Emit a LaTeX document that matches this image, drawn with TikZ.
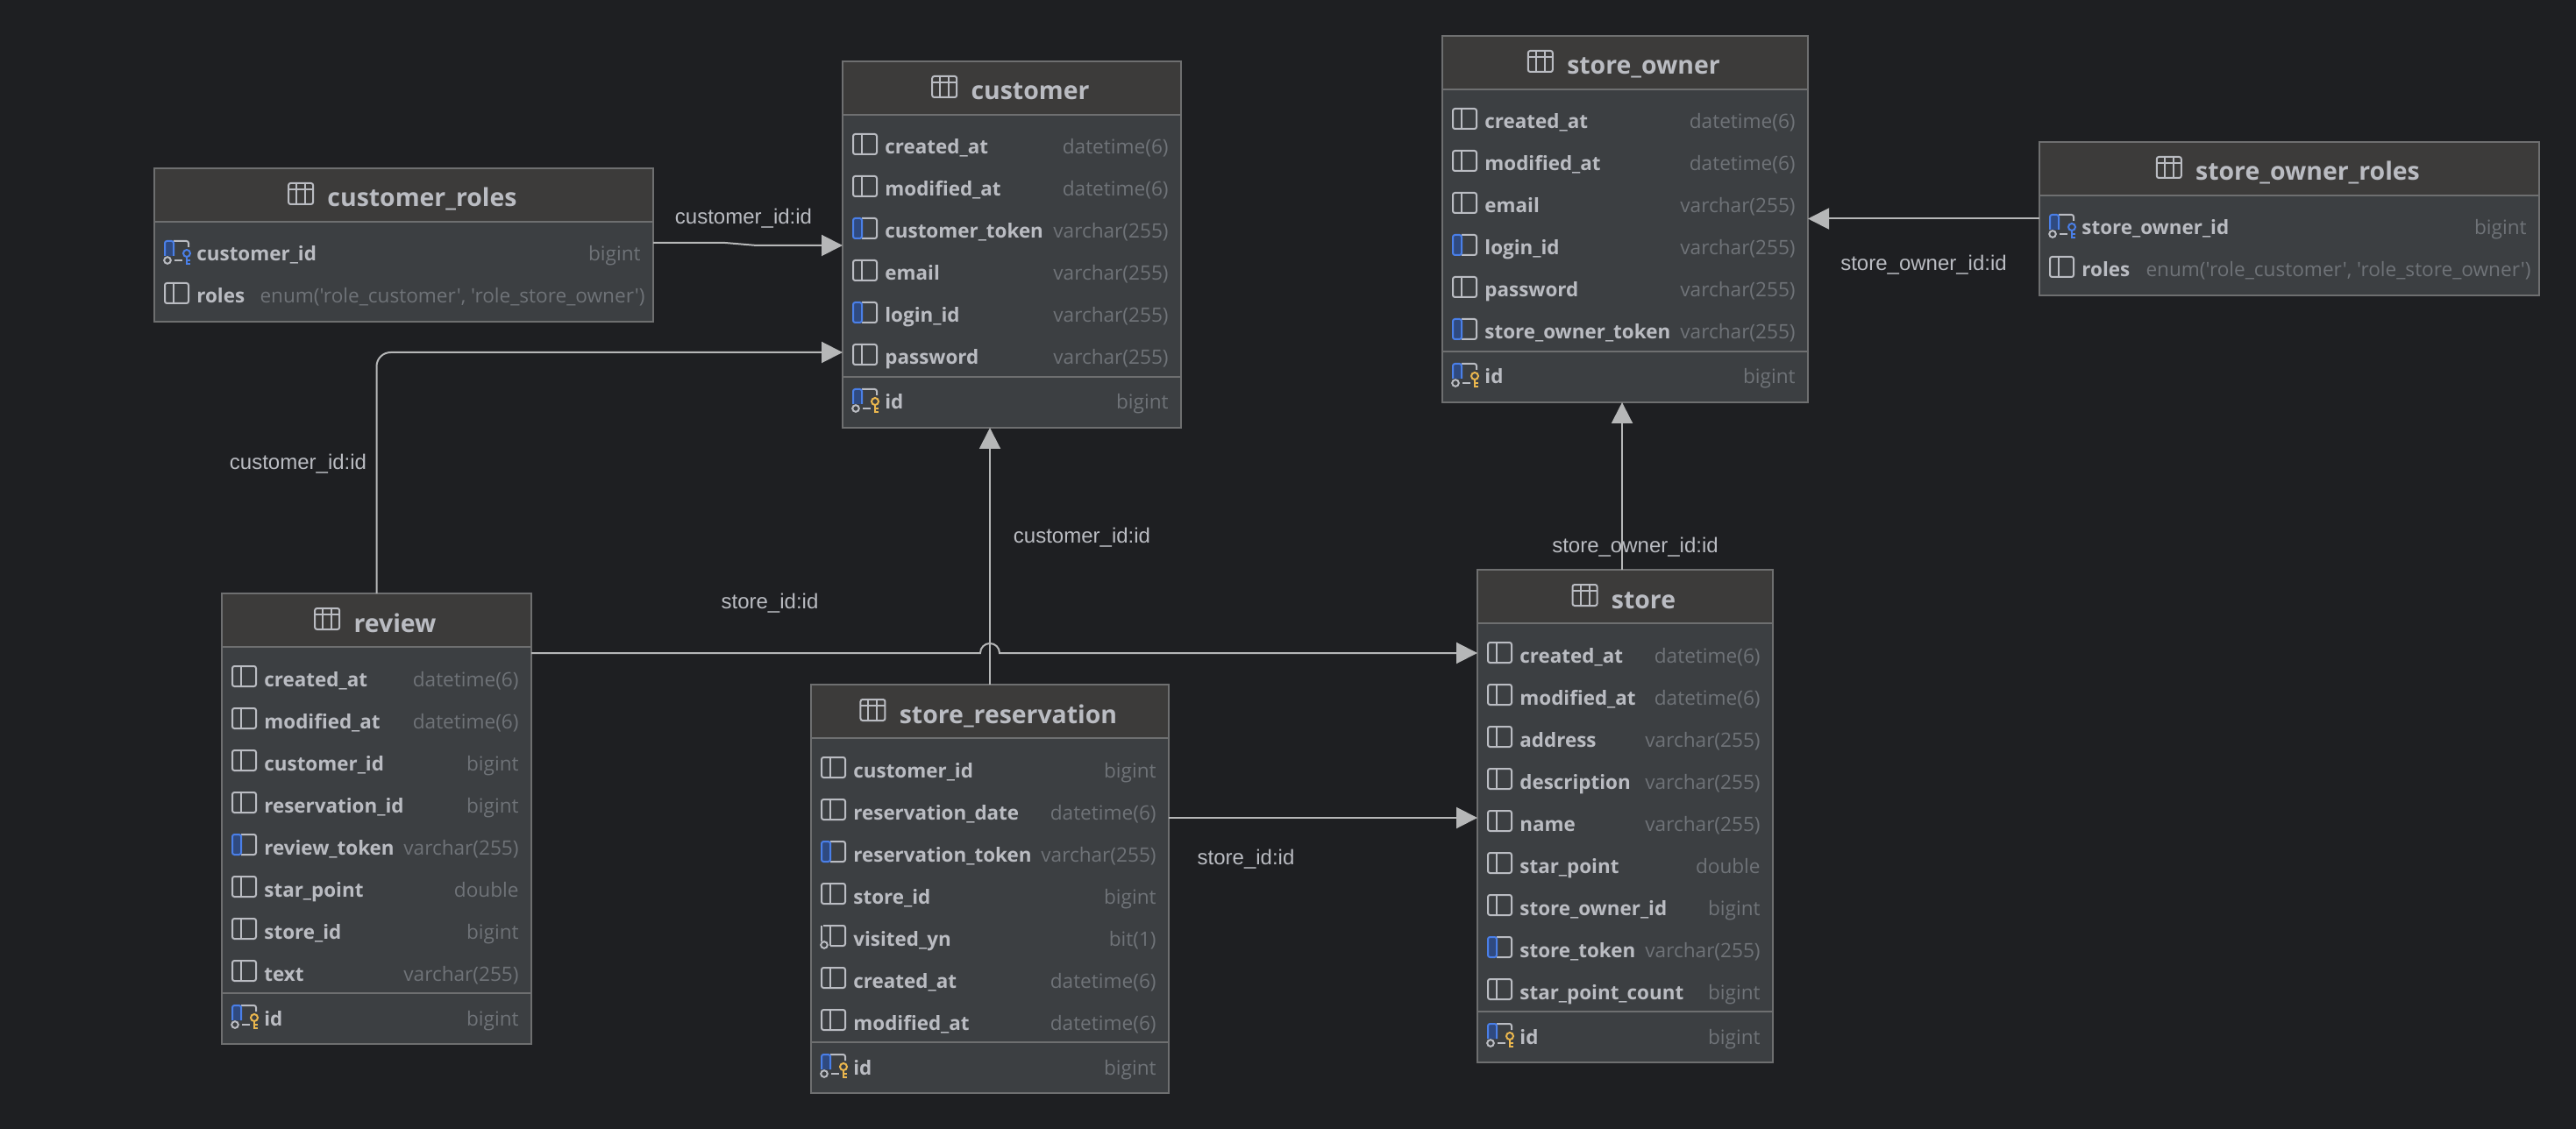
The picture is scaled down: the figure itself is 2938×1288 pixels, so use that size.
\documentclass[tikz,border=0pt]{standalone}
\usepackage{fontspec}
\usetikzlibrary{arrows.meta,calc,positioning,fit}
\newfontfamily\uifont{Open Sans}
\newfontfamily\lblfont{Liberation Sans}
\definecolor{bgdark}{HTML}{1E1F22}
\definecolor{headfill}{HTML}{3C3B3A}
\definecolor{bodyfill}{HTML}{3C3F42}
\definecolor{edgegray}{HTML}{6E6F70}
\definecolor{textgray}{HTML}{BABCC2}
\definecolor{typegray}{HTML}{6F7378}
\definecolor{linegray}{HTML}{B6B7B8}
\definecolor{iconblue}{HTML}{4A7FE8}
\definecolor{iconfill}{HTML}{2F4A80}
\definecolor{keyyellow}{HTML}{EBB74E}
\tikzset{
	tablebox/.style={fill=bodyfill,inner sep=0pt,outer sep=0pt},
	tabletitle/.style={font=\uifont\bfseries\fontsize{14.2}{16}\selectfont,text=textgray,inner sep=0pt,anchor=base},
	colname/.style={font=\uifont\bfseries\fontsize{11.2}{14}\selectfont,text=textgray,inner sep=0pt,anchor=base west},
	coltype/.style={font=\uifont\fontsize{11.3}{14}\selectfont,text=typegray,inner sep=0pt,anchor=base east},
	fklabel/.style={font=\lblfont\fontsize{12}{14}\selectfont,text=textgray,inner sep=0pt},
	fkline/.style={line width=1pt,draw=linegray,-{Triangle[length=12pt,width=12pt,fill=linegray]}},
	icline/.style={line width=1pt,draw=textgray,rounded corners=1.2pt},
	icblue/.style={line width=1pt,draw=iconblue,rounded corners=1.2pt},
}
\newcommand{\iconplain}{%
	\draw[icline] (0,-15) rectangle (27,8);
	\draw[icline] (10,-15) -- (10,8);
}
\newcommand{\iconuq}{%
	\draw[icline] (10,-15) -- (27,-15) -- (27,8) -- (10,8);
	\filldraw[icblue,fill=iconfill] (10,-15) -- (0,-15) -- (0,8) -- (10,8) -- cycle;
}
\newcommand{\iconnull}{%
	\draw[icline] (2,-15) -- (27,-15) -- (27,8) -- (10,8);
	\draw[icline] (10,-15) -- (10,8);
	\draw[icline] (0,-15) -- (0,3);
	\draw[line width=1pt,draw=textgray] (3,7) circle[radius=3.8];
}
\newcommand{\iconkey}[1]{%
	\draw[icline] (10,-15) -- (27,-15) -- (27,-8);
	\draw[icline] (11,7) -- (20,7);
	\filldraw[icblue,fill=iconfill] (0,2) -- (0,-15) -- (10,-15) -- (10,2);
	\draw[line width=1pt,draw=textgray] (3,7) circle[radius=3.8];
	\draw[line width=1pt,draw=#1] (25,-1) circle[radius=4];
	\draw[line width=1pt,draw=#1] (25,3) -- (25,11) -- (29,11) (25,7) -- (29,7);
}
\newcommand{\iconpk}{\iconkey{keyyellow}}
\newcommand{\iconfk}{\iconkey{iconblue}}
\newcommand{\dbtable}[6]{%
	\coordinate (#1-nw) at (#3,#5);
	\coordinate (#1-se) at (#4,#6);
	\node[tablebox,fit=(#1-nw)(#1-se)] (#1) {};
	\fill[headfill] (#1.north west) rectangle ($(#1.north east)+(0,61)$);
	\draw[line width=1pt,draw=edgegray] ($(#1.north west)+(0,61)$) -- ($(#1.north east)+(0,61)$);
	\draw[line width=1pt,draw=edgegray] (#1.north west) rectangle (#1.south east);
	\node[tabletitle] (#1-title) at ($(#1.north)+(21,44)$) {#2};
	\begin{scope}[shift={($(#1-title.base west)+(-44,-27)$)}]
		\draw[icline] (0,0) rectangle (28,24);
		\draw[icline] (0,7) -- (28,7) (9,0) -- (9,24) (19,0) -- (19,24);
	\end{scope}
}
\newcommand{\dbrow}[5]{%
	\coordinate (#1-#2) at ($(#1.north west)+(0,#2)$);
	\begin{scope}[shift={($(#1-#2)+(12,0)$)}]
		\csname icon#3\endcsname
	\end{scope}
	\node[colname] (#1-#2-col) at ($(#1-#2)+(48,8)$) {#4};
	\node[coltype] (#1-#2-type) at ($(#1-#2 -| #1.east)+(-14,8)$) {#5};
}
\newcommand{\dbrows}[2]{%
	\foreach \ic/\col/\typ [count=\rowi from 0] in {#2} {
		\pgfmathtruncatemacro{\rowy}{98+48*\rowi}
		\dbrow{#1}{\rowy}{\ic}{\col}{\typ}
	}
}
\newcommand{\dbid}[2]{%
	\pgfmathtruncatemacro{\sepy}{72+48*#2}
	\pgfmathtruncatemacro{\idy}{101+48*#2}
	\draw[line width=1pt,draw=edgegray] ($(#1.north west)+(0,\sepy)$) -- ($(#1.north east)+(0,\sepy)$);
	\dbrow{#1}{\idy}{pk}{id}{bigint}
}
\begin{document}
\begin{tikzpicture}[x=0.5pt,y=-0.5pt]
	\useasboundingbox[fill=bgdark] (0,0) rectangle (2938,1288);
	\dbtable{customer_roles}{customer\_roles}{176}{745}{192}{367}
	\dbrows{customer_roles}{fk/customer\_id/bigint,plain/roles/{enum('role\_customer', 'role\_store\_owner')\kern-2.5pt}}
	\dbtable{customer}{customer}{961}{1347}{70}{488}
	\dbrows{customer}{plain/created\_at/datetime(6),plain/modified\_at/datetime(6),uq/customer\_token/varchar(255),plain/email/varchar(255),uq/login\_id/varchar(255),plain/password/varchar(255)}
	\dbid{customer}{6}
	\dbtable{store_owner}{store\_owner}{1645}{2062}{41}{459}
	\dbrows{store_owner}{plain/created\_at/datetime(6),plain/modified\_at/datetime(6),plain/email/varchar(255),uq/login\_id/varchar(255),plain/password/varchar(255),uq/store\_owner\_token/varchar(255)}
	\dbid{store_owner}{6}
	\dbtable{store_owner_roles}{store\_owner\_roles}{2326}{2896}{162}{337}
	\dbrows{store_owner_roles}{fk/store\_owner\_id/bigint,plain/roles/{enum('role\_customer', 'role\_store\_owner')\kern-2.5pt}}
	\dbtable{review}{review}{253}{606}{677}{1191}
	\dbrows{review}{plain/created\_at/datetime(6),plain/modified\_at/datetime(6),plain/customer\_id/bigint,plain/reservation\_id/bigint,uq/review\_token/varchar(255),plain/star\_point/double,plain/store\_id/bigint,plain/text/varchar(255)}
	\dbid{review}{8}
	\dbtable{store_reservation}{store\_reservation}{925}{1333}{781}{1247}
	\dbrows{store_reservation}{plain/customer\_id/bigint,plain/reservation\_date/datetime(6),uq/reservation\_token/varchar(255),plain/store\_id/bigint,null/visited\_yn/bit(1),plain/created\_at/datetime(6),plain/modified\_at/datetime(6)}
	\dbid{store_reservation}{7}
	\dbtable{store}{store}{1685}{2022}{650}{1212}
	\dbrows{store}{plain/created\_at/datetime(6),plain/modified\_at/datetime(6),plain/address/varchar(255),plain/description/varchar(255),plain/name/varchar(255),plain/star\_point/double,plain/store\_owner\_id/bigint,uq/store\_token/varchar(255),plain/star\_point\_count/bigint}
	\dbid{store}{9}
	\coordinate (customerIn) at (961,402);
	\coordinate (storeIn) at (1685,745);
	\coordinate (storeResv) at (1685,933);
	\coordinate (storeUp) at (1850,650);
	\coordinate (jumpL) at (1118,745);
	\coordinate (rolesA) at (827,277);
	\coordinate (rolesB) at (863,280);
	\draw[fkline] (customer_roles.east |- rolesA) -- (rolesA) -- (rolesB) -- (customer.west |- rolesB);
	\draw[fkline,rounded corners=8pt] (review.north) |- (customerIn);
	\draw[fkline] (review.east |- storeIn) -- (jumpL) arc[start angle=180,end angle=360,radius=11] -- (storeIn);
	\draw[fkline] (store_reservation.north) -- (store_reservation.north |- customer.south);
	\draw[fkline] (store_reservation.east |- storeResv) -- (storeResv);
	\draw[fkline] (storeUp) -- (storeUp |- store_owner.south);
	\draw[fkline] (store_owner_roles.west) -- (store_owner.east |- store_owner_roles.west);
	\node[fklabel] (lblRoles) at (848,249) {customer\_id:id};
	\node[fklabel] (lblReview) at (340,529) {customer\_id:id};
	\node[fklabel] (lblStore) at (878,688) {store\_id:id};
	\node[fklabel] (lblResv) at (1234,613) {customer\_id:id};
	\node[fklabel] (lblResvStore) at (1421,980) {store\_id:id};
	\node[fklabel] (lblOwner) at (1865,624) {store\_owner\_id:id};
	\node[fklabel] (lblOwnerRoles) at (2194,302) {store\_owner\_id:id};
\end{tikzpicture}
\end{document}
